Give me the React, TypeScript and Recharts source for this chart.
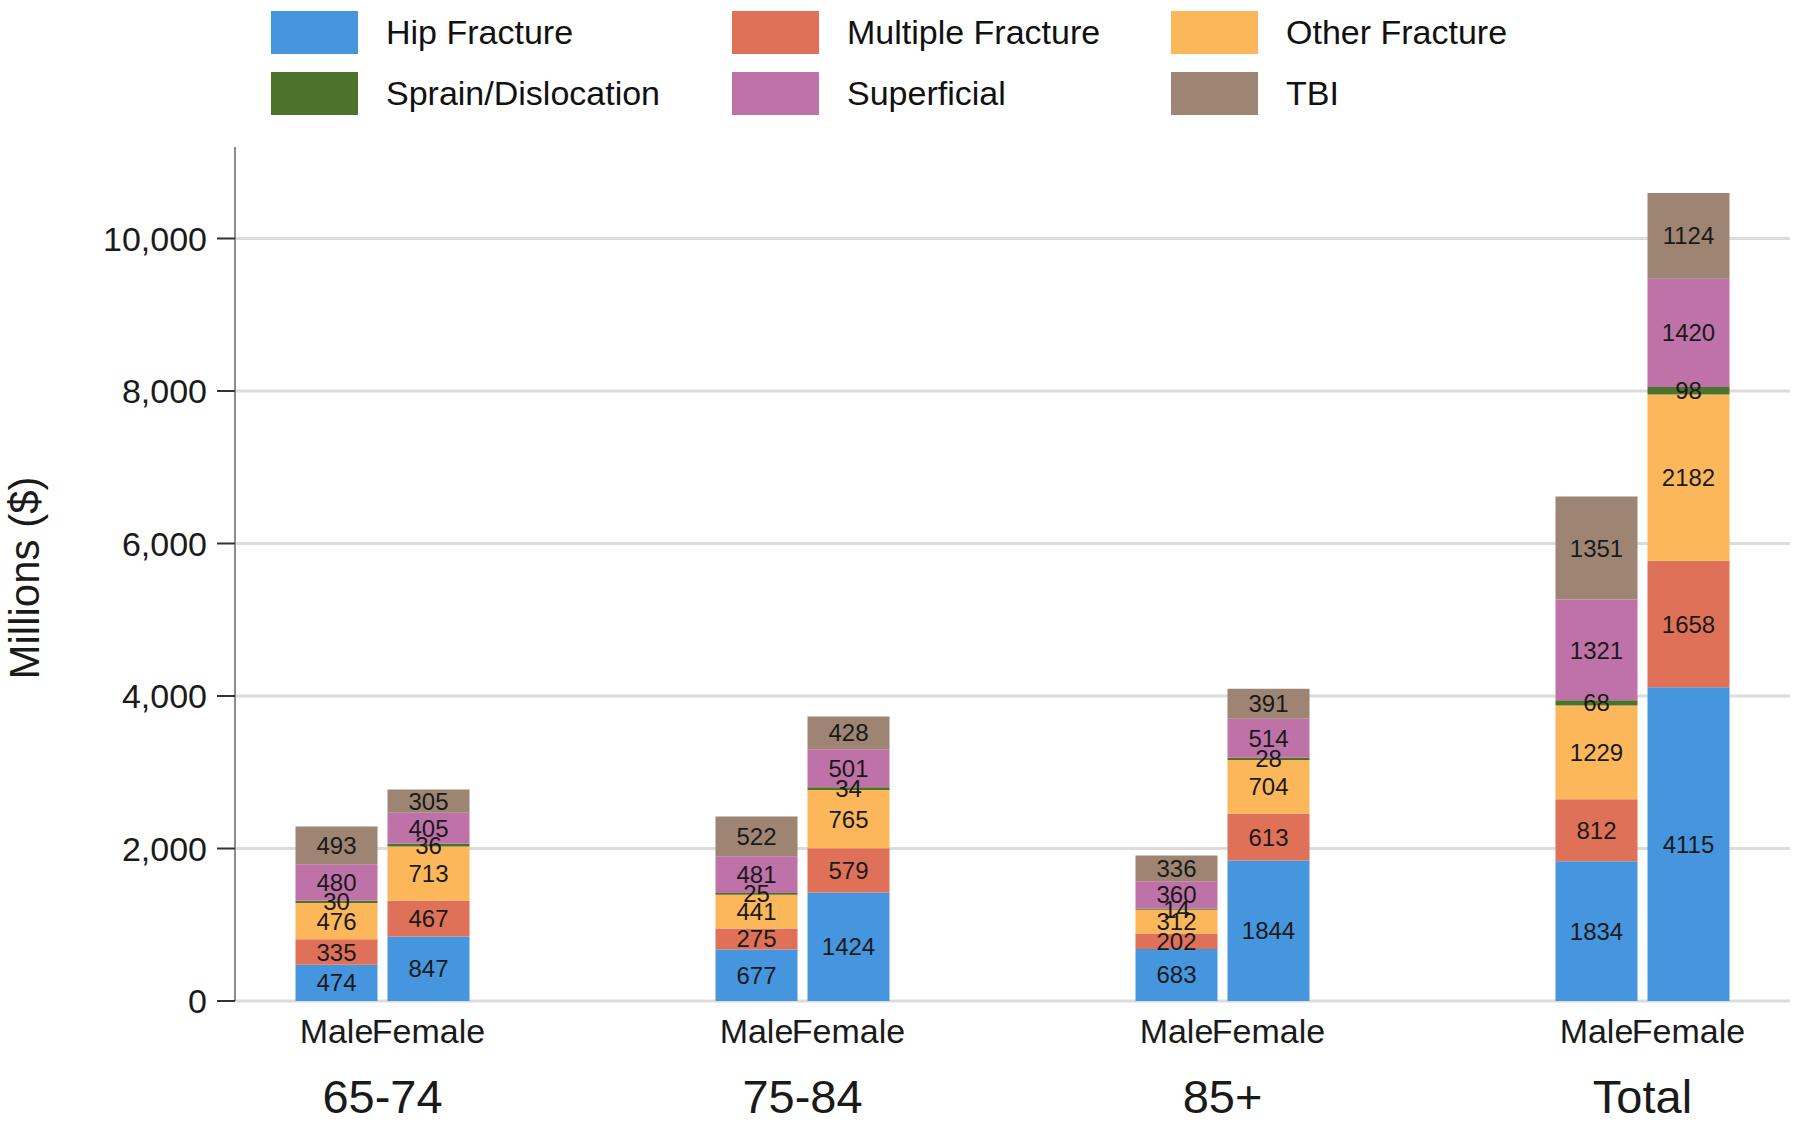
import React from 'react'
import { BarChart, Bar, XAxis, YAxis, CartesianGrid, LabelList } from 'recharts'

const groups = ['65-74', '75-84', '85+', 'Total']

const maleHip = [474, 677, 683, 1834]
const maleMultiple = [335, 275, 202, 812]
const maleOther = [476, 441, 312, 1229]
const maleSprain = [30, 25, 14, 68]
const maleSuperficial = [480, 481, 360, 1321]
const maleTbi = [493, 522, 336, 1351]

const femaleHip = [847, 1424, 1844, 4115]
const femaleMultiple = [467, 579, 613, 1658]
const femaleOther = [713, 765, 704, 2182]
const femaleSprain = [36, 34, 28, 98]
const femaleSuperficial = [405, 501, 514, 1420]
const femaleTbi = [305, 428, 391, 1124]

const yTicks = [0, 2000, 4000, 6000, 8000, 10000]

const injuries = [
  { key: 'hip', name: 'Hip Fracture', color: '#4596de', male: maleHip, female: femaleHip },
  { key: 'multiple', name: 'Multiple Fracture', color: '#e07159', male: maleMultiple, female: femaleMultiple },
  { key: 'other', name: 'Other Fracture', color: '#fdb75b', male: maleOther, female: femaleOther },
  { key: 'sprain', name: 'Sprain/Dislocation', color: '#4b7329', male: maleSprain, female: femaleSprain },
  { key: 'superficial', name: 'Superficial', color: '#be72a8', male: maleSuperficial, female: femaleSuperficial },
  { key: 'tbi', name: 'TBI', color: '#9e8573', male: maleTbi, female: femaleTbi },
]

// one row per age group, with empty spacer rows between groups
const rows: Array<Record<string, string | number>> = []
groups.forEach((g, i) => {
  if (i > 0) rows.push({ group: '' })
  const row: Record<string, string | number> = { group: g }
  injuries.forEach((inj) => {
    row['m_' + inj.key] = inj.male[i]
    row['f_' + inj.key] = inj.female[i]
  })
  rows.push(row)
})

const FONT = '"Liberation Sans", Arial, sans-serif'
const TEXT = '#1a1a1a'

function GroupTick(props: any) {
  const { x, y, payload } = props
  if (!payload || !payload.value) return <g />
  return (
    <g fontFamily={FONT} fill={TEXT}>
      <text x={x - 46} y={y + 42} textAnchor="middle" fontSize={34}>Male</text>
      <text x={x + 46} y={y + 42} textAnchor="middle" fontSize={34}>Female</text>
      <text x={x} y={y + 112} textAnchor="middle" fontSize={47}>{payload.value}</text>
    </g>
  )
}

function YLabel(props: any) {
  const vb = props.viewBox || { x: 0, y: 147, height: 854 }
  const cx = vb.x + 39
  const cy = vb.y + vb.height / 2 + 4
  return (
    <text
      x={cx}
      y={cy}
      transform={`rotate(-90, ${cx}, ${cy})`}
      textAnchor="middle"
      fontSize={42}
      fontFamily={FONT}
      fill={TEXT}
    >
      Millions ($)
    </text>
  )
}

function LegendBlock() {
  const cols = [271, 732, 1171]
  const tops = [11, 72]
  return (
    <div style={{ position: 'absolute', left: 0, top: 0, width: 1800, height: 130 }}>
      {injuries.map((inj, i) => {
        const left = cols[i % 3]
        const top = tops[Math.floor(i / 3)]
        return (
          <React.Fragment key={inj.key}>
            <div style={{ position: 'absolute', left, top, width: 87, height: 43, background: inj.color }} />
            <div
              style={{
                position: 'absolute',
                left: left + 115,
                top,
                height: 43,
                lineHeight: '43px',
                fontSize: 34,
                fontFamily: FONT,
                color: '#111',
                whiteSpace: 'nowrap',
              }}
            >
              {inj.name}
            </div>
          </React.Fragment>
        )
      })}
    </div>
  )
}

export default function App() {
  return (
    <div style={{ position: 'absolute', left: 0, top: 0, width: 1800, height: 1123, background: '#fff' }}>
      <BarChart
        width={1800}
        height={1123}
        data={rows}
        margin={{ top: 147, right: 10, left: 0, bottom: 0 }}
        barGap={10}
        barSize={82}
      >
        <CartesianGrid vertical={false} horizontalValues={yTicks} stroke="#dcdcdc" strokeWidth={3} />
        <XAxis
          dataKey="group"
          height={122}
          padding={{ left: 42.5, right: 42.5 }}
          axisLine={false}
          tickLine={false}
          tickSize={0}
          tickMargin={0}
          interval={0}
          tick={<GroupTick />}
        />
        <YAxis
          type="number"
          width={235}
          domain={[0, 11200]}
          ticks={yTicks}
          tickFormatter={(v: number) => v.toLocaleString('en-US')}
          tick={{ fontSize: 34, fill: TEXT, fontFamily: FONT }}
          tickSize={18}
          tickMargin={10}
          tickLine={{ stroke: '#333', strokeWidth: 2 }}
          axisLine={{ stroke: '#8c8c8c', strokeWidth: 2 }}
          label={<YLabel />}
        />
        {injuries.map((inj) => (
          <Bar key={'m_' + inj.key} dataKey={'m_' + inj.key} stackId="male" fill={inj.color} isAnimationActive={false}>
            <LabelList dataKey={'m_' + inj.key} position="center" fill={TEXT} fontSize={24} fontFamily={FONT} />
          </Bar>
        ))}
        {injuries.map((inj) => (
          <Bar key={'f_' + inj.key} dataKey={'f_' + inj.key} stackId="female" fill={inj.color} isAnimationActive={false}>
            <LabelList dataKey={'f_' + inj.key} position="center" fill={TEXT} fontSize={24} fontFamily={FONT} />
          </Bar>
        ))}
      </BarChart>
      <LegendBlock />
    </div>
  )
}
